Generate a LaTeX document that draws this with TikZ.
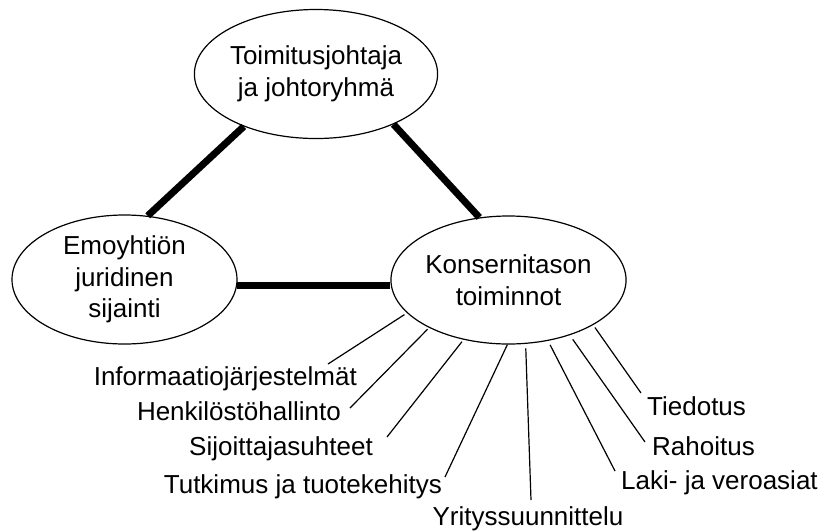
\documentclass[tikz,border=0pt]{standalone}
\usepackage{fontspec}
\setmainfont{Liberation Sans}
\usetikzlibrary{shapes.geometric}
\begin{document}
\begin{tikzpicture}[x=1pt,y=-1pt,
  bubble/.style={draw=black, line width=1.2pt, ellipse, inner sep=0pt, align=center,
    font=\fontsize{26}{31.5}\selectfont},
  lab/.style={inner sep=0pt, font=\fontsize{26}{31}\selectfont},
  thick link/.style={line width=7pt},
  spoke/.style={line width=1.2pt}]
\useasboundingbox (0,0) rectangle (825,531);
\node[bubble, minimum width=226pt, minimum height=129pt] (T) at (316,74) {Toimitusjohtaja\\ja johtoryhmä};
\node[bubble, minimum width=225pt, minimum height=129pt] (E) at (124.5,279.5) {Emoyhtiön\\juridinen\\sijainti};
\node[bubble, minimum width=225pt, minimum height=128pt] (K) at (508.5,280) {Konsernitason\\toiminnot};

\draw[thick link] (T.-144) -- (E.70);
\draw[thick link] (T.-33) -- (K.115);
\draw[thick link] (E.-3) -- (E.-3 -| K.west);

\node[lab, anchor=base west] (tied) at (647,415) {Tiedotus};
\node[lab, anchor=base west] (rah) at (652,455) {Rahoitus};
\node[lab, anchor=base west] (laki) at (621,489) {Laki- ja veroasiat};
\node[lab, anchor=base] (yrit) at (528,525) {Yrityssuunnittelu};
\node[lab, anchor=base east] (tutk) at (442,493) {Tutkimus ja tuotekehitys};
\node[lab, anchor=base east] (sijo) at (373,455) {Sijoittajasuhteet};
\node[lab, anchor=base east] (henk) at (341,420) {Henkilöstöhallinto};
\node[lab, anchor=base east] (info) at (357,385) {Informaatiojärjestelmät};

\coordinate (cT) at (641,393);
\coordinate (cR) at (645,442);
\coordinate (cL) at (615,471);
\coordinate (cY) at (531,500);
\coordinate (cTu) at (445,477);
\coordinate (cS) at (387,437);
\coordinate (cH) at (350,408);
\coordinate (cI) at (328,364);

\draw[spoke, shorten <=3pt] (K.-28.6) -- (cT);
\draw[spoke, shorten <=5pt] (K.-42.9) -- (cR);
\draw[spoke, shorten <=4.5pt] (K.-57) -- (cL);
\draw[spoke, shorten <=4.5pt] (K.-75.6) -- (cY);
\draw[spoke] (K.-91.4) -- (cTu);
\draw[spoke, shorten <=2.5pt] (K.-127.3) -- (cS);
\draw[spoke, shorten <=2pt] (K.-149.7) -- (cH);
\draw[spoke, shorten <=3pt] (K.-162.5) -- (cI);
\end{tikzpicture}
\end{document}
